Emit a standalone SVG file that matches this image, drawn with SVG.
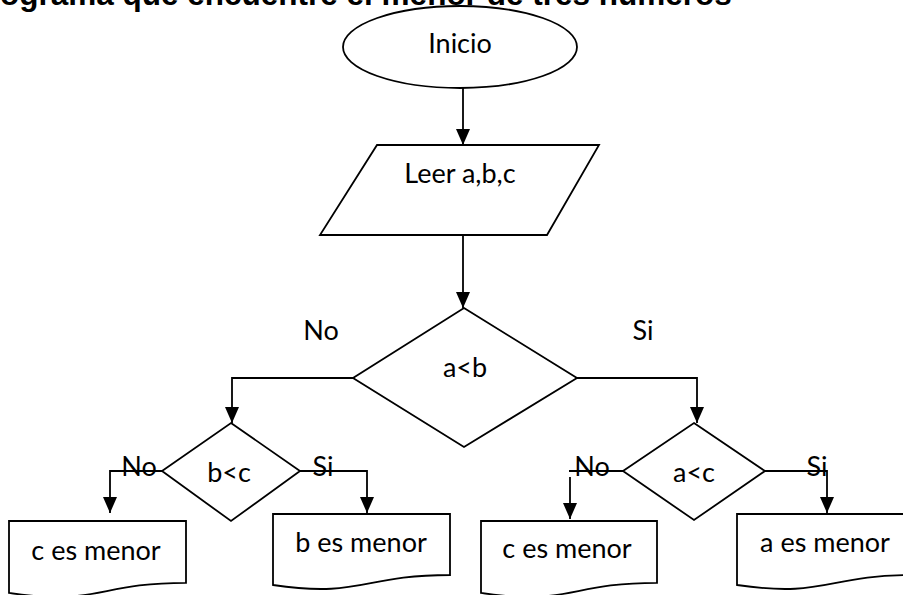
<svg xmlns="http://www.w3.org/2000/svg" width="903" height="595" viewBox="0 0 903 595">
<style>
.s{fill:#fff;stroke:#000;stroke-width:1.8}
.t{font-family:Lato,"Open Sans","Liberation Sans",sans-serif;font-size:27px;fill:#000;text-anchor:middle}
.c{fill:none;stroke:#000;stroke-width:1.8}
.title{font-family:"Liberation Sans",Arial,sans-serif;font-weight:bold;font-size:31.5px;fill:#000}
</style>
<defs>
<marker id="ah" markerUnits="userSpaceOnUse" markerWidth="16" markerHeight="14" refX="16" refY="7" orient="auto" viewBox="0 0 16 14">
<path d="M0,0 L16,7 L0,14 Z" fill="#000"/>
</marker>
</defs>
<text class="title" x="0" y="5">ograma que encuentre el menor de tres números</text>
<g id="connectors">
<path class="c" d="M463,88 V145" marker-end="url(#ah)"/>
<path class="c" d="M463,235 V308" marker-end="url(#ah)"/>
<path class="c" d="M353,378 H232 V423" marker-end="url(#ah)"/>
<path class="c" d="M577,378 H697 V423" marker-end="url(#ah)"/>
<path class="c" d="M173,471 H110 V513" marker-end="url(#ah)"/>
<path class="c" d="M300,471 H367 V513" marker-end="url(#ah)"/>
<path class="c" d="M569,471 H633"/>
<path class="c" d="M570,477 V519" marker-end="url(#ah)"/>
<path class="c" d="M765,471 H827 V513" marker-end="url(#ah)"/>
<text class="t" x="321" y="340">No</text>
<text class="t" x="643" y="340">Si</text>
<text class="t" x="139" y="476">No</text>
<text class="t" x="323" y="476">Si</text>
<text class="t" x="592" y="476">No</text>
<text class="t" x="817" y="476">Si</text>
</g>
<g id="inicio">
<ellipse class="s" cx="460" cy="47" rx="117" ry="41"/>
<text class="t" x="460" y="53">Inicio</text>
</g>
<g id="leer">
<polygon class="s" points="377,145 599,145 547,235 320,235"/>
<text class="t" x="460" y="183">Leer a,b,c</text>
</g>
<g id="d_ab">
<polygon class="s" points="464,308 577,378 464,447 353,378"/>
<text class="t" x="465" y="377">a&lt;b</text>
</g>
<g id="d_bc">
<polygon class="s" points="231,423 300,471 231,521 162,471"/>
<text class="t" x="229" y="482">b&lt;c</text>
</g>
<g id="d_ac">
<polygon class="s" points="694,423 765,471 694,520 623,471"/>
<text class="t" x="694" y="482">a&lt;c</text>
</g>
<g id="out_c1">
<path class="s" d="M9,521 H186 V582.8 C97.5,582.8 97.5,606.3 9,592.9 Z"/>
<text class="t" x="96" y="560">c es menor</text>
</g>
<g id="out_b">
<path class="s" d="M273,514 H450 V575 C361.5,575 361.5,598.1 273,585 Z"/>
<text class="t" x="361" y="552">b es menor</text>
</g>
<g id="out_c2">
<path class="s" d="M481,521 H657 V582.8 C569,582.8 569,606.3 481,592.9 Z"/>
<text class="t" x="567" y="558">c es menor</text>
</g>
<g id="out_a">
<path class="s" d="M737,514 H914 V575 C825.5,575 825.5,598.1 737,585 Z"/>
<text class="t" x="825" y="552">a es menor</text>
</g>
</svg>
